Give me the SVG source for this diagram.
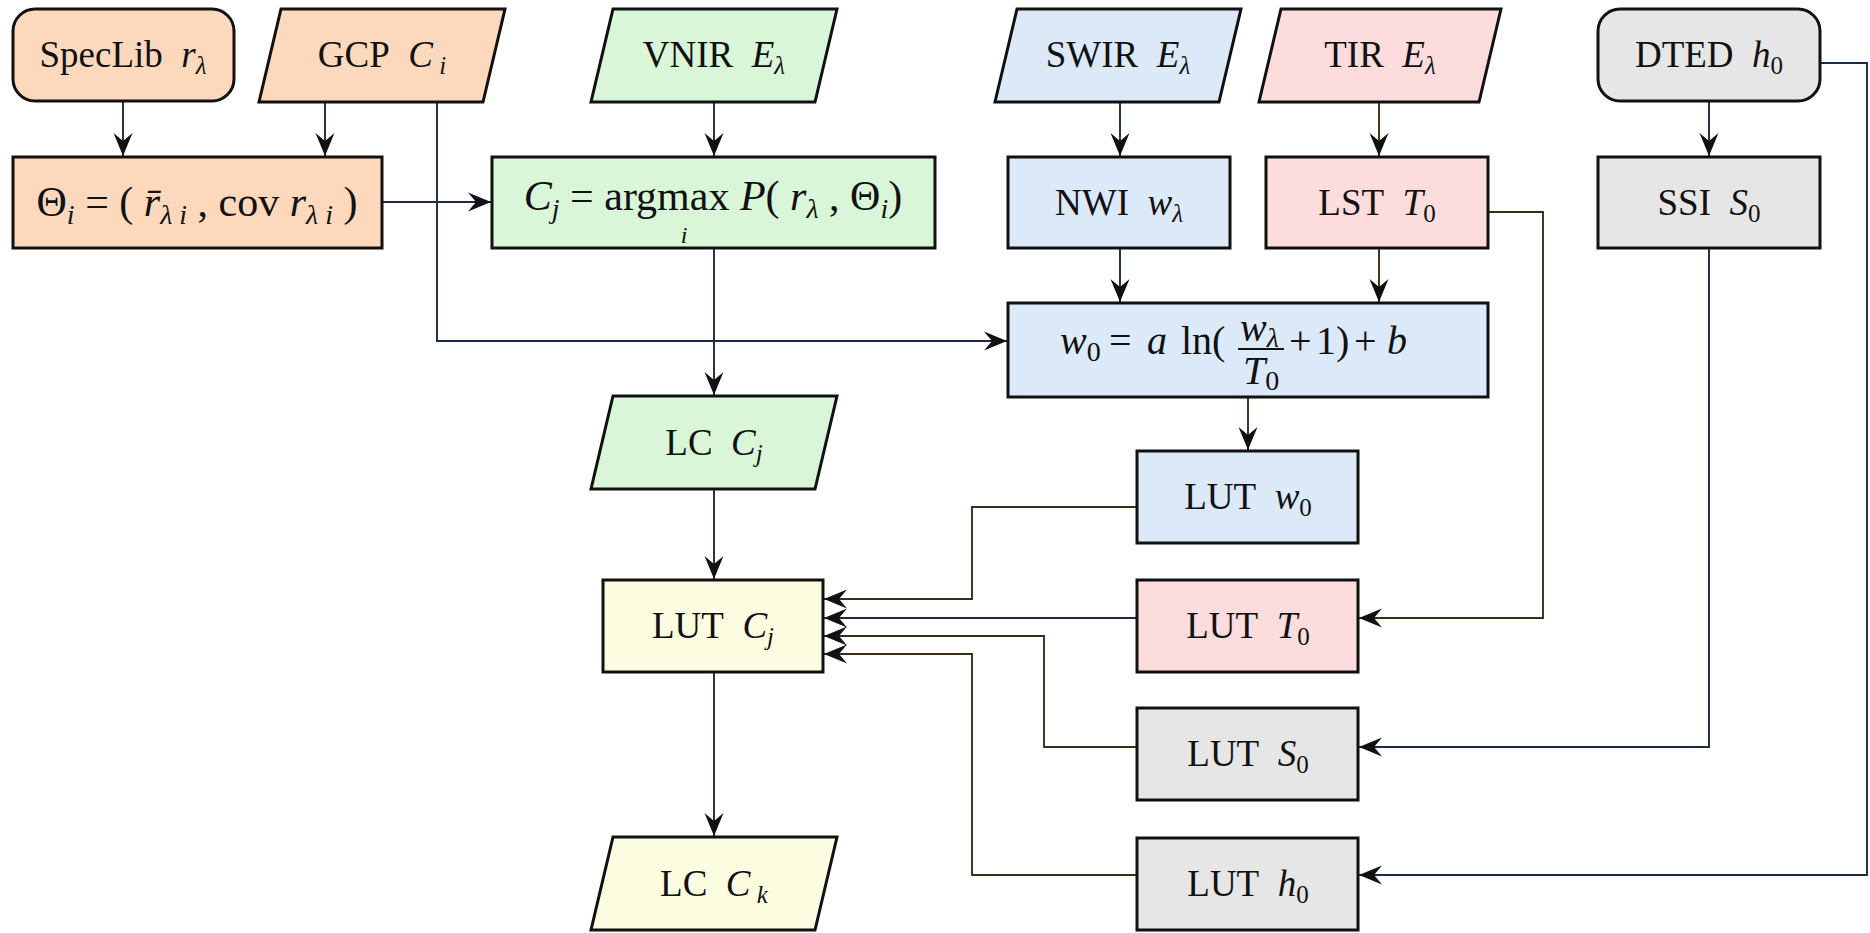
<svg xmlns="http://www.w3.org/2000/svg" width="1870" height="933" viewBox="0 0 1870 933">
<style>
.box{stroke:#111;stroke-width:3}
.peach{fill:#fcd9bd}.green{fill:#d9f6d8}.blue{fill:#dbe9f9}.pink{fill:#fcdcdc}.gray{fill:#e6e6e6}.yellow{fill:#fcfde0}
.c{fill:none;stroke:#1a2a48;stroke-width:1.9;marker-end:url(#ah)}
.b{stroke:#3e2a18}
text{font-family:"Liberation Serif","Times New Roman",serif;fill:#111}
.lbl{font-size:37px;text-anchor:middle}
.fm{font-size:42px;text-anchor:middle}
.w0{font-size:40px}
.it{font-style:italic}
.sub{font-size:25px}
.sub2{font-size:28px}
</style>
<defs>
<marker id="ah" markerWidth="23" markerHeight="20" refX="23" refY="10" orient="auto" markerUnits="userSpaceOnUse">
<path d="M23,10 L0,0.5 L8,10 L0,19.5 Z" fill="#111"/>
</marker>
</defs>
<rect width="1870" height="933" fill="#fff"/>
<g id="connectors">
<path class="c" d="M123,101 V156"/>
<path class="c" d="M325,102 V156"/>
<path class="c" d="M437,102 V341 H1007"/>
<path class="c" d="M382,202 H491"/>
<path class="c" d="M714,102 V156"/>
<path class="c" d="M714,248 V395"/>
<path class="c" d="M714,489 V579"/>
<path class="c" d="M714,672 V836"/>
<path class="c" d="M1120,102 V156"/>
<path class="c b" d="M1379,102 V156"/>
<path class="c" d="M1120,248 V302"/>
<path class="c b" d="M1379,248 V302"/>
<path class="c b" d="M1248,397 V450"/>
<path class="c b" d="M1137,507 H972 V599 H824"/>
<path class="c" d="M1137,618 H824"/>
<path class="c b" d="M1137,747 H1044 V636 H824"/>
<path class="c b" d="M1137,875 H972 V654 H824"/>
<path class="c b" d="M1488,212 H1543 V618 H1359"/>
<path class="c" d="M1709,248 V747 H1359"/>
<path class="c" d="M1820,63 H1867 V875 H1359"/>
<path class="c" d="M1709,101 V156"/>
</g>
<g id="speclib">
<rect class="box peach" x="13" y="9" width="221" height="92" rx="22"/>
<text class="lbl" x="123" y="67">SpecLib&#160; <tspan class="it">r</tspan><tspan class="it sub" dy="7">λ</tspan></text>
</g>
<g id="gcp">
<polygon class="box peach" points="281,9 505,9 483,102 259,102"/>
<text class="lbl" x="382" y="67">GCP&#160; <tspan class="it">C</tspan><tspan class="it sub" dy="7">&#160;i</tspan></text>
</g>
<g id="vnir">
<polygon class="box green" points="613,9 837,9 815,102 591,102"/>
<text class="lbl" x="714" y="67">VNIR&#160; <tspan class="it">E</tspan><tspan class="it sub" dy="7">λ</tspan></text>
</g>
<g id="swir">
<polygon class="box blue" points="1017,9 1241,9 1219,102 995,102"/>
<text class="lbl" x="1118" y="67">SWIR&#160; <tspan class="it">E</tspan><tspan class="it sub" dy="7">λ</tspan></text>
</g>
<g id="tir">
<polygon class="box pink" points="1281,9 1501,9 1479,102 1259,102"/>
<text class="lbl" x="1380" y="67">TIR&#160; <tspan class="it">E</tspan><tspan class="it sub" dy="7">λ</tspan></text>
</g>
<g id="dted">
<rect class="box gray" x="1598" y="9" width="222" height="92" rx="22"/>
<text class="lbl" x="1709" y="67">DTED&#160; <tspan class="it">h</tspan><tspan class="sub" dy="7">0</tspan></text>
</g>
<g id="theta">
<rect class="box peach" x="13" y="157" width="369" height="91"/>
<text class="fm" x="197" y="216">Θ<tspan class="it sub2" dy="8">i</tspan><tspan dy="-8"> = (&#160;</tspan><tspan class="it">r̄</tspan><tspan class="it sub2" dy="8">λ i</tspan><tspan dy="-8"> , cov </tspan><tspan class="it">r</tspan><tspan class="it sub2" dy="8">λ i</tspan><tspan dy="-8">&#160;)</tspan></text>
</g>
<g id="classify">
<rect class="box green" x="492" y="157" width="443" height="91"/>
<text class="fm" x="713" y="210"><tspan class="it">C</tspan><tspan class="it sub2" dy="8">j</tspan><tspan dy="-8"> = argmax </tspan><tspan class="it">P</tspan>(&#160;<tspan class="it">r</tspan><tspan class="it sub2" dy="8">λ</tspan><tspan dy="-8"> , Θ</tspan><tspan class="it sub2" dy="8">i</tspan><tspan dy="-8">)</tspan></text>
<text class="it" x="684" y="243" font-size="24" text-anchor="middle">i</text>
</g>
<g id="nwi">
<rect class="box blue" x="1008" y="157" width="222" height="91"/>
<text class="lbl" x="1119" y="215">NWI&#160; <tspan class="it">w</tspan><tspan class="it sub" dy="7">λ</tspan></text>
</g>
<g id="lst">
<rect class="box pink" x="1266" y="157" width="222" height="91"/>
<text class="lbl" x="1377" y="215">LST&#160; <tspan class="it">T</tspan><tspan class="sub" dy="7">0</tspan></text>
</g>
<g id="ssi">
<rect class="box gray" x="1598" y="157" width="222" height="91"/>
<text class="lbl" x="1709" y="215">SSI&#160; <tspan class="it">S</tspan><tspan class="sub" dy="7">0</tspan></text>
</g>
<g id="w0formula">
<rect class="box blue" x="1008" y="303" width="480" height="94"/>
<text class="w0" x="1060" y="354"><tspan class="it">w</tspan><tspan class="sub2" dy="7">0</tspan></text>
<text class="w0" x="1109" y="354">=</text>
<text class="w0 it" x="1147" y="354">a</text>
<text class="w0" x="1181" y="354">ln(</text>
<text class="w0" x="1240" y="341"><tspan class="it">w</tspan><tspan class="it sub2" dy="6">λ</tspan></text>
<line x1="1238" y1="349" x2="1284" y2="349" stroke="#111" stroke-width="2"/>
<text class="w0" x="1243" y="384"><tspan class="it">T</tspan><tspan class="sub2" dy="6">0</tspan></text>
<text class="w0" x="1289" y="354">+</text>
<text class="w0" x="1316" y="354">1)</text>
<text class="w0" x="1354" y="354">+</text>
<text class="w0 it" x="1387" y="354">b</text>
</g>
<g id="lccj">
<polygon class="box green" points="613,396 837,396 815,489 591,489"/>
<text class="lbl" x="714" y="455">LC&#160; <tspan class="it">C</tspan><tspan class="it sub" dy="7">j</tspan></text>
</g>
<g id="lutw0">
<rect class="box blue" x="1137" y="451" width="221" height="92"/>
<text class="lbl" x="1248" y="509">LUT&#160; <tspan class="it">w</tspan><tspan class="sub" dy="7">0</tspan></text>
</g>
<g id="lutcj">
<rect class="box yellow" x="603" y="580" width="220" height="92"/>
<text class="lbl" x="713" y="638">LUT&#160; <tspan class="it">C</tspan><tspan class="it sub" dy="7">j</tspan></text>
</g>
<g id="lutt0">
<rect class="box pink" x="1137" y="580" width="221" height="92"/>
<text class="lbl" x="1248" y="638">LUT&#160; <tspan class="it">T</tspan><tspan class="sub" dy="7">0</tspan></text>
</g>
<g id="luts0">
<rect class="box gray" x="1137" y="708" width="221" height="92"/>
<text class="lbl" x="1248" y="766">LUT&#160; <tspan class="it">S</tspan><tspan class="sub" dy="7">0</tspan></text>
</g>
<g id="luth0">
<rect class="box gray" x="1137" y="838" width="221" height="92"/>
<text class="lbl" x="1248" y="896">LUT&#160; <tspan class="it">h</tspan><tspan class="sub" dy="7">0</tspan></text>
</g>
<g id="lcck">
<polygon class="box yellow" points="613,837 837,837 815,930 591,930"/>
<text class="lbl" x="714" y="896">LC&#160; <tspan class="it">C</tspan><tspan class="it sub" dy="7">&#160;k</tspan></text>
</g>
</svg>
